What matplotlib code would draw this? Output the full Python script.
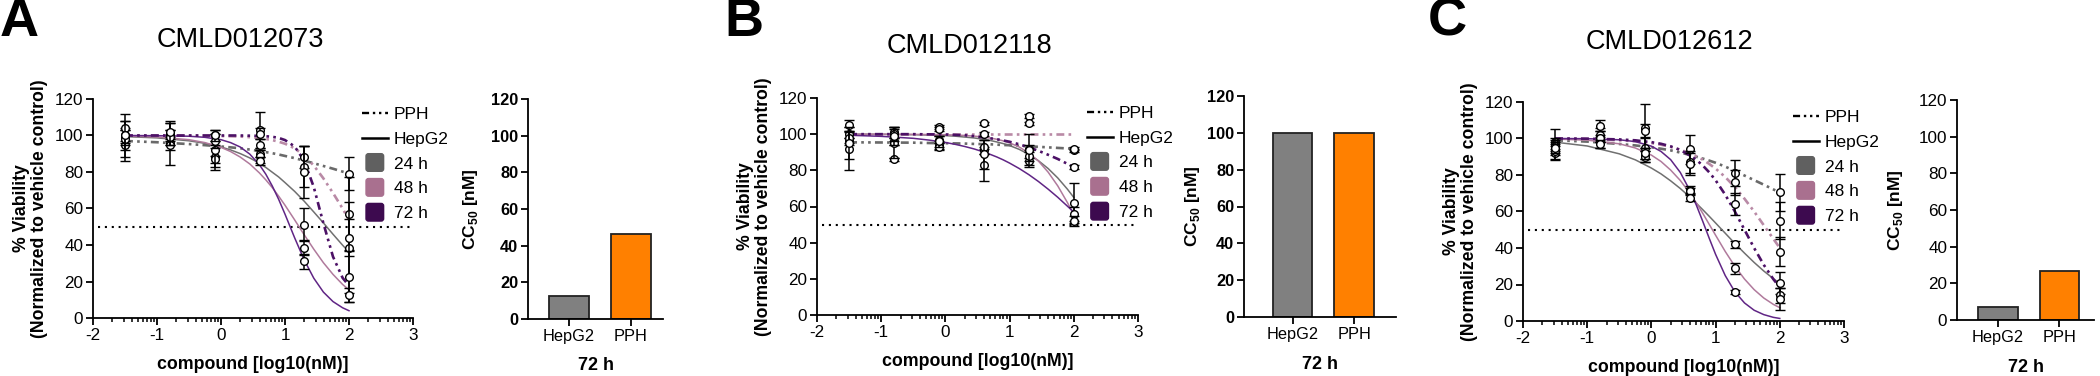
import numpy as np
import matplotlib
matplotlib.use('Agg')
import matplotlib.pyplot as plt
from matplotlib.lines import Line2D
from matplotlib.patches import Patch, FancyBboxPatch
from matplotlib.legend_handler import HandlerPatch

plt.rcParams['font.family'] = ['Liberation Sans', 'DejaVu Sans']
plt.rcParams['mathtext.fontset'] = 'custom'
plt.rcParams['mathtext.rm'] = 'Liberation Sans'
plt.rcParams['mathtext.bf'] = 'Liberation Sans:bold'

# x positions (log10 nM) of the tested doses and of the drawn fit curves
DOSE_LOG = [-1.495, -0.796, -0.097, 0.602, 1.301, 2.0]
FIT_LOG = [-1.5, -1.0, -0.5, -0.25, 0.0, 0.15, 0.3, 0.45, 0.6, 0.7,
           0.8, 0.9, 1.0, 1.15, 1.3, 1.45, 1.6, 1.75, 1.9, 2.0]
TIMES = ['24 h', '48 h', '72 h']
CELLS = ['HepG2', 'PPH']
TITLES = ['CMLD012073', 'CMLD012118', 'CMLD012612']
LETTERS = ['A', 'B', 'C']

# ---- CMLD012073 ----
A_HEP_MEAN = [[98, 101, 92, 89, 51, 44],
              [104, 99, 97, 86, 38.5, 22.5],
              [100, 102, 100, 95, 31, 12.5]]
A_HEP_SD = [[10, 6, 9, 4, 9, 10],
            [8, 4, 4, 2, 4, 14],
            [8, 5, 3, 3, 4, 4]]
A_PPH_MEAN = [[95, 96, 88, 90, 88, 79],
              [100, 95, 87, 103, 83, 57],
              [99, 101, 100, 101, 80, 38.5]]
A_PPH_SD = [[9, 12, 7, 2, 6, 9],
            [3, 3, 2, 10, 11, 20],
            [4, 2, 3, 3, 14, 25]]
A_HEP_FIT = [[99.4, 98.7, 97.1, 95.7, 93.7, 92.1, 90.1, 87.7, 84.8, 82.5,
              79.9, 77.3, 74.2, 69.4, 64.0, 58.1, 52.1, 45.9, 39.9, 36.1],
             [99.7, 99.2, 97.7, 96.1, 93.5, 91.2, 88.2, 84.4, 79.5, 75.7,
              71.5, 66.8, 61.8, 53.8, 45.6, 37.7, 30.3, 23.9, 18.4, 15.4],
             [100.0, 99.9, 99.6, 99.0, 97.7, 96.1, 93.7, 89.8, 84.0, 78.8,
              72.4, 65.1, 56.9, 44.0, 31.8, 21.8, 14.2, 9.0, 5.6, 4.0]]
A_PPH_FIT = [[97.0, 96.3, 95.3, 94.7, 94.0, 93.5, 93.0, 92.3, 91.5, 90.9,
              90.3, 89.6, 88.8, 87.6, 86.2, 84.8, 83.3, 81.8, 80.2, 79.2],
             [100.0, 100.0, 100.0, 99.9, 99.7, 99.6, 99.4, 99.1, 98.6, 98.1,
              97.5, 96.6, 95.5, 93.0, 89.0, 83.5, 76.5, 68.5, 60.0, 53.7],
             [100.0, 100.0, 100.0, 100.0, 100.0, 100.0, 100.0, 99.9, 99.8, 99.6,
              99.3, 98.7, 97.5, 94.0, 86.2, 71.7, 51.9, 33.6, 22.0, 17.7]]
A_CC50 = [12.5, 46.5]

# ---- CMLD012118 ----
B_HEP_MEAN = [[92, 95, 93, 83, 85, 62],
              [105, 100, 97, 93, 88, 56],
              [95, 99, 96, 89, 91, 52]]
B_HEP_SD = [[12, 8, 2, 9, 2, 11],
            [3, 4, 2, 4, 3, 4],
            [9, 5, 3, 8, 9, 3]]
B_PPH_MEAN = [[96, 96, 94, 91, 92, 91],
              [100, 101, 104, 106, 110, 92],
              [98, 86, 103, 100, 106, 82]]
B_PPH_SD = [[2, 2, 2, 2, 2, 1],
            [2, 3, 1, 1, 1, 1],
            [3, 1, 1, 1, 1, 1]]
B_HEP_FIT = [[100.0, 99.9, 99.7, 99.5, 99.2, 98.9, 98.4, 97.9, 97.1, 96.5,
              95.7, 94.8, 93.7, 91.6, 88.8, 85.3, 81.0, 75.8, 69.6, 65.0],
             [100.0, 100.0, 99.9, 99.8, 99.7, 99.5, 99.3, 98.9, 98.4, 97.8,
              97.2, 96.3, 95.2, 92.9, 89.6, 85.1, 79.0, 71.4, 62.2, 55.5],
             [99.4, 98.8, 97.7, 96.7, 95.4, 94.4, 93.2, 91.8, 90.1, 88.8,
              87.4, 85.8, 84.0, 81.0, 77.6, 73.8, 69.6, 65.1, 60.2, 56.9]]
B_PPH_FIT = [[95.5, 95.4, 95.3, 95.1, 95.0, 94.9, 94.8, 94.6, 94.5, 94.4,
              94.2, 94.0, 93.9, 93.6, 93.3, 93.0, 92.7, 92.4, 92.1, 92.0],
             [100.2, 100.2, 100.2, 100.2, 100.2, 100.2, 100.2, 100.2, 100.2, 100.2,
              100.2, 100.2, 100.2, 100.2, 100.2, 100.2, 100.2, 100.2, 100.2, 100.2],
             [100.0, 100.0, 100.0, 99.9, 99.8, 99.6, 99.4, 98.9, 98.2, 97.7,
              97.2, 96.5, 95.8, 94.4, 92.7, 90.8, 88.6, 86.3, 83.6, 81.8]]
B_CC50 = [100, 100]

# ---- CMLD012612 ----
C_HEP_MEAN = [[96, 98, 91, 72, 42, 21],
              [93, 100, 90, 71, 29, 14],
              [95, 97, 92, 67.5, 16, 12]]
C_HEP_SD = [[3, 3, 4, 2, 2, 6],
            [4, 2, 3, 2, 3, 4],
            [3, 2, 3, 2, 1, 6]]
C_PPH_MEAN = [[98, 101, 95, 94, 81, 70.5],
              [92, 102, 106, 87, 76, 55],
              [97, 107, 104, 86, 64, 38]]
C_PPH_SD = [[7, 3, 6, 8, 7, 10],
            [4, 4, 13, 6, 7, 10],
            [3, 3, 4, 6, 6, 8]]
C_HEP_FIT = [[98.0, 95.9, 91.6, 88.3, 83.8, 80.6, 76.8, 72.6, 67.9, 64.5,
              61.0, 57.4, 53.7, 48.1, 42.5, 37.2, 32.1, 27.4, 23.2, 20.6],
             [99.7, 99.1, 97.1, 94.8, 90.9, 87.4, 82.7, 77.0, 70.0, 64.7,
              59.0, 53.0, 47.0, 38.1, 30.0, 23.0, 17.2, 12.6, 9.1, 7.3],
             [100.0, 99.9, 99.3, 98.3, 95.8, 92.9, 88.4, 81.4, 71.5, 63.5,
              54.6, 45.4, 36.5, 24.9, 16.0, 9.9, 5.9, 3.5, 2.0, 1.4]]
C_PPH_FIT = [[99.0, 98.3, 97.0, 96.2, 95.2, 94.4, 93.5, 92.3, 91.0, 90.0,
              89.0, 87.9, 86.7, 84.6, 82.2, 79.7, 77.2, 74.7, 72.1, 70.4],
             [99.9, 99.7, 99.0, 98.5, 97.5, 96.6, 95.4, 93.9, 91.9, 90.3,
              88.4, 86.1, 83.5, 78.9, 73.4, 67.0, 60.0, 52.5, 45.0, 40.0],
             [100.0, 99.9, 99.5, 99.0, 98.0, 97.1, 95.7, 93.7, 90.7, 88.3,
              85.2, 81.5, 77.1, 69.2, 60.0, 50.0, 40.0, 30.8, 22.9, 18.5]]
C_CC50 = [7, 26.5]

HEP_COLORS = ['#707070', '#b07a9c', '#602585']
PPH_COLORS = ['#6a6a6a', '#b98aa6', '#4c1166']
KEY_COLORS = ['#606060', '#a9708f', '#3d0a4f']
BAR_COLORS = ['#808080', '#ff8000']
PPH_LS = (0, (3, 1.6, 1, 1.6, 1, 1.6))


def square_patch(legend, orig_handle, xdescent, ydescent, width, height, fontsize):
    s = 1.45 * height
    return FancyBboxPatch((width / 2 - s / 2 - xdescent, height / 2 - s / 2 - ydescent), s, s,
                          boxstyle='round,pad=0,rounding_size=1.8')


def style_axes(ax, bold, size):
    for side in ['top', 'right']:
        ax.spines[side].set_visible(False)
    for side in ['left', 'bottom']:
        ax.spines[side].set_linewidth(1.3)
    ax.tick_params(which='major', direction='out', length=5, width=1.3, labelsize=size, pad=2)
    ax.tick_params(which='minor', direction='out', length=3, width=1.1)
    if bold:
        for lab in ax.get_yticklabels():
            lab.set_fontweight('bold')


def dose_panel(ax, hep_mean, hep_sd, hep_fit, pph_mean, pph_sd, pph_fit):
    ax.hlines(50, -1.92, 2.95, colors='black', linestyles=(0, (1, 2.3)), lw=1.5, zorder=1)
    for i in range(3):
        ax.plot(FIT_LOG, hep_fit[i], color=HEP_COLORS[i], lw=1.1, zorder=2)
        ax.plot(FIT_LOG, pph_fit[i], color=PPH_COLORS[i], lw=1.9, ls=PPH_LS, zorder=2)
    z = 3
    for mean, sd in zip(pph_mean + hep_mean, pph_sd + hep_sd):
        ax.errorbar(DOSE_LOG, mean, yerr=sd, fmt='o', mfc='white', mec='black', mew=1.0,
                    ms=5.5, ecolor='black', elinewidth=1.1, capsize=3.5, capthick=1.1,
                    zorder=z, clip_on=False)
        z += 0.1
    ax.set_xlim(-2, 3)
    ax.set_ylim(0, 120)
    ax.set_xticks([-2, -1, 0, 1, 2, 3])
    ax.set_xticklabels(['-2', '-1', '0', '1', '2', '3'])
    minors = [d + np.log10(k) for d in range(-2, 3) for k in range(2, 10)]
    ax.set_xticks(minors, minor=True)
    ax.set_yticks(range(0, 121, 20))
    style_axes(ax, False, 12.3)
    ax.set_xlabel('compound [log10(nM)]', fontsize=12.8, fontweight='bold', va='top')
    ax.xaxis.set_label_coords(0.5, -0.173)
    ax.set_ylabel('% Viability\n(Normalized to vehicle control)', fontsize=12.7,
                  fontweight='bold', linespacing=1.1)
    ax.yaxis.set_label_coords(-0.14, 0.5)
    handles = [Line2D([], [], color='black', lw=1.7, ls=PPH_LS),
               Line2D([], [], color='black', lw=1.8)]
    handles += [Patch(color=c) for c in KEY_COLORS]
    ax.legend(handles, ['PPH', 'HepG2'] + TIMES, loc='upper left', bbox_to_anchor=(0.84, 0.965),
              frameon=False, fontsize=12.5, handlelength=1.5, handletextpad=0.35,
              labelspacing=0.56, borderpad=0, borderaxespad=0,
              handler_map={Patch: HandlerPatch(patch_func=square_patch)})


def bar_panel(ax, cc50, xlim, label_x, bold):
    ax.bar([0, 1], cc50, width=0.645, color=BAR_COLORS, edgecolor='#222222', lw=1.3)
    ax.set_xlim(*xlim)
    ax.set_ylim(0, 120)
    ax.set_yticks(range(0, 121, 20))
    ax.set_xticks([0, 1])
    ax.set_xticklabels(CELLS)
    style_axes(ax, bold, 11.8)
    if not bold:
        ax.tick_params(axis='y', labelsize=12.3)
    ax.set_xlabel('72 h', fontsize=13, fontweight='bold', va='top')
    ax.xaxis.set_label_coords(0.5, -0.175)
    ax.set_ylabel(r'CC$_{\mathbf{50}}$ [nM]', fontsize=12.5, fontweight='bold')
    ax.yaxis.set_label_coords(label_x, 0.5)


fig = plt.figure(figsize=(21, 3.76), dpi=100)
W, H = 2100, 376


def px_axes(x0, x1, ytop, ybot):
    return fig.add_axes([x0 / W, 1 - ybot / H, (x1 - x0) / W, (ybot - ytop) / H])


line_boxes = [(93, 413, 99, 318), (817, 1138, 98, 315), (1523, 1844, 102, 321)]
bar_boxes = [(528, 663, 99, 319), (1244, 1396, 96, 317), (1957, 2094, 100, 320)]
bar_xlims = [(-0.66, 1.52), (-0.79, 1.68), (-0.66, 1.56)]
bar_label_x = [-0.356, -0.276, -0.377]
bar_bold = [True, True, False]
title_pos = [(240, 40), (969, 46), (1669, 42)]
letter_pos = [(19, 22), (744, 22), (1447, 22)]

data = [
    (A_HEP_MEAN, A_HEP_SD, A_HEP_FIT, A_PPH_MEAN, A_PPH_SD, A_PPH_FIT, A_CC50),
    (B_HEP_MEAN, B_HEP_SD, B_HEP_FIT, B_PPH_MEAN, B_PPH_SD, B_PPH_FIT, B_CC50),
    (C_HEP_MEAN, C_HEP_SD, C_HEP_FIT, C_PPH_MEAN, C_PPH_SD, C_PPH_FIT, C_CC50),
]

for k in range(3):
    hm, hs, hf, pm, ps, pf, cc = data[k]
    ax1 = px_axes(*line_boxes[k])
    dose_panel(ax1, hm, hs, hf, pm, ps, pf)
    ax2 = px_axes(*bar_boxes[k])
    bar_panel(ax2, cc, bar_xlims[k], bar_label_x[k], bar_bold[k])
    tx, ty = title_pos[k]
    fig.text(tx / W, 1 - ty / H, TITLES[k], fontsize=19.5, ha='center', va='center')
    lx, ly = letter_pos[k]
    fig.text(lx / W, 1 - ly / H, LETTERS[k], fontsize=39, fontweight='bold',
             ha='center', va='center')

fig.savefig('out.png', dpi=100)
